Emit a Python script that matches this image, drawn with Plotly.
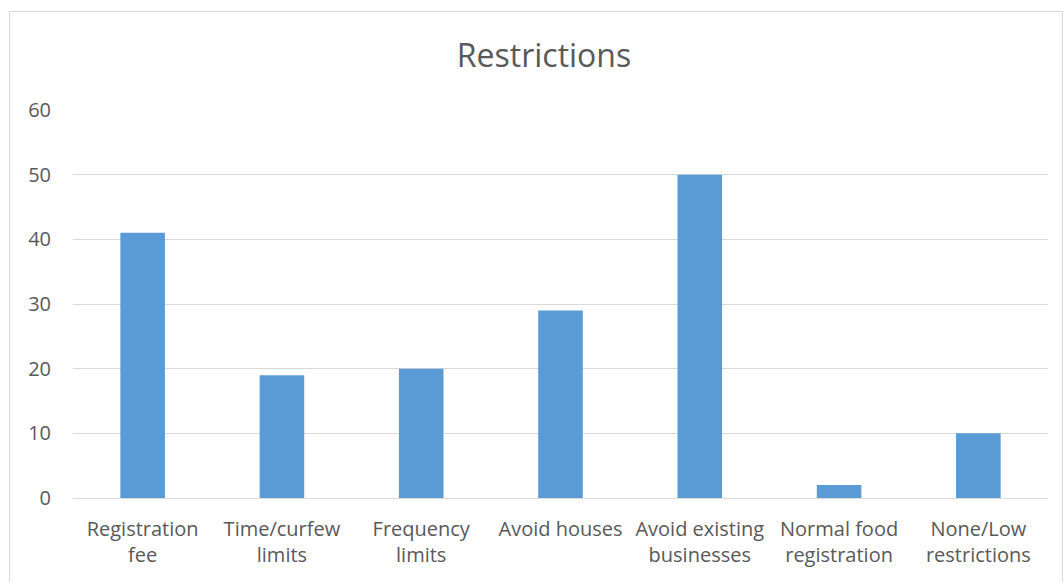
import plotly.graph_objects as go

categories = ["Registration<br>fee", "Time/curfew<br>limits", "Frequency<br>limits", "Avoid houses",
              "Avoid existing<br>businesses", "Normal food<br>registration", "None/Low<br>restrictions"]
values = [41, 19, 20, 29, 50, 2, 10]
y_ticks = [0, 10, 20, 30, 40, 50, 60]

W, H = 1064, 582
L, R, T, B = 73, 16, 110, 84
pw, ph = W - L - R, H - T - B


def py(p):
    return (H - B - p) / ph


fig = go.Figure(go.Bar(x=categories, y=values, marker_color="#5B9BD5",
                       marker_line_width=0))
fig.update_layout(
    width=W, height=H,
    margin=dict(l=L, r=R, t=T, b=B, autoexpand=False),
    paper_bgcolor="white", plot_bgcolor="white",
    bargap=0.68,
    font=dict(family="Open Sans", color="#595959", size=20),
    title=dict(text="Restrictions", x=(544 - L) / pw, xref="paper", xanchor="center",
               y=1 - 56 / H, yref="container", yanchor="middle",
               font=dict(size=32, color="#595959")),
    xaxis=dict(showgrid=False, showline=True, linecolor="#D9D9D9", linewidth=1,
               tickfont=dict(size=20), ticks="", fixedrange=True,
               ticklabelstandoff=13),
    yaxis=dict(range=[0, 60], tickvals=y_ticks, showgrid=True, gridcolor="#D9D9D9",
               gridwidth=1, zeroline=False, showline=False, ticks="",
               ticklabelstandoff=21, tickfont=dict(size=20), fixedrange=True),
    shapes=[dict(type="rect", xref="paper", yref="paper",
                 x0=(9.5 - L) / pw, x1=(1062.5 - L) / pw,
                 y0=py(600), y1=py(11.5),
                 line=dict(color="#D9D9D9", width=1), fillcolor="rgba(0,0,0,0)", layer="below")],
    showlegend=False,
)
fig.write_html("out.html", config={"displayModeBar": False},
               post_script="document.body.style.margin='0';")
